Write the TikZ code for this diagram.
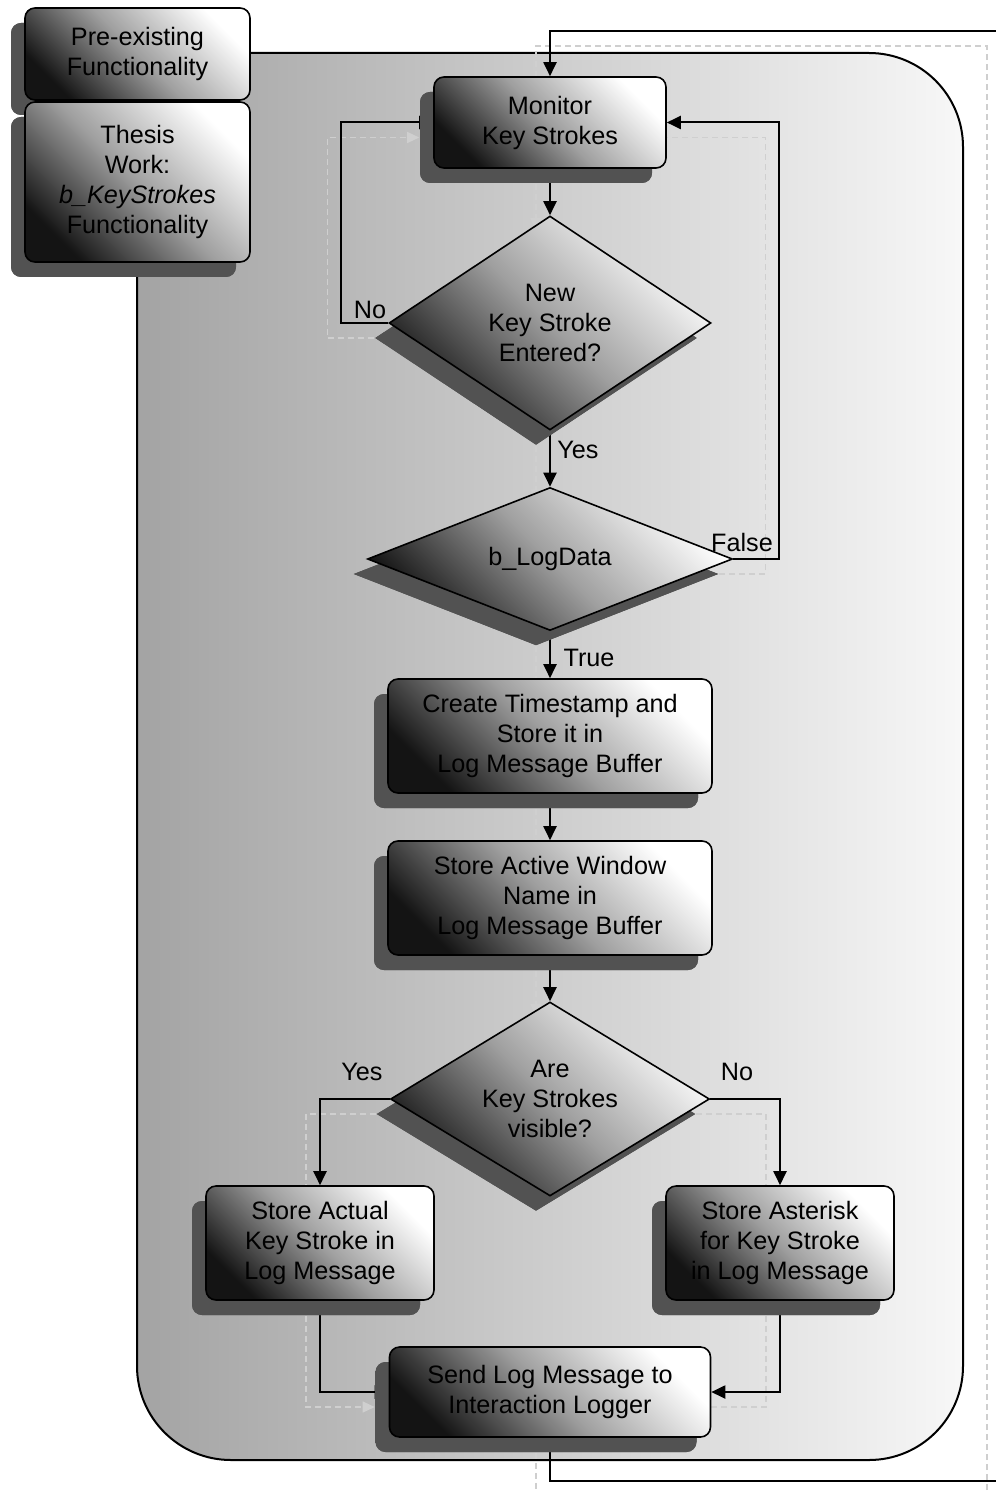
\documentclass[tikz,border=0pt]{standalone}
\usepackage{fontspec}
\setmainfont{Liberation Sans}
\usetikzlibrary{shapes.geometric,shadows,arrows.meta,backgrounds}
\begin{document}
\begin{tikzpicture}[x=0.5pt,y=-0.5pt,
  font=\fontsize{12.6}{15}\selectfont,
  grad/.style={top color=white, bottom color=black!92, middle color=gray!75, shading angle=-45},
  shadowdark/.style={drop shadow={shadow xshift=-7pt, shadow yshift=-7.5pt, opacity=1,
      fill=black!68, top color=black!68, bottom color=black!68, middle color=black!68}},
  procbox/.style={grad, shadowdark, draw=black, line width=0.8pt, rounded corners=5pt,
      align=center, inner sep=0pt},
  decision/.style={grad, shadowdark, diamond, aspect=1.5, draw=black, line width=0.8pt,
      align=center, inner sep=0pt},
  region/.style={draw=black, line width=1pt, rounded corners=47pt, left color=gray!72, right color=gray!6},
  conn/.style={draw=black, line width=1pt},
  arr/.style={-{Triangle[length=7pt,width=6.5pt]}},
  cshad/.style={draw=gray!38, line width=0.7pt, densely dashed},
  sarr/.style={-{Triangle[length=6pt,width=5.5pt]}},
  lbl/.style={inner sep=1pt}
]
\useasboundingbox (0,0) rectangle (995,1492);

% legend
\node[procbox, minimum width=112.5pt, minimum height=46pt] (legA) at (137.5,54)
  {Pre-existing\\Functionality};
\node[procbox, minimum width=112.5pt, minimum height=80pt] (legB) at (137.5,182)
  {Thesis\\Work:\\\textit{b\_KeyStrokes}\\Functionality};

% process steps
\node[procbox, minimum width=116pt, minimum height=45.5pt] (mon) at (550,122.5)
  {Monitor\\Key Strokes};
\node[decision, minimum width=161pt, minimum height=107pt] (d1) at (550,323)
  {New\\Key Stroke\\Entered?};
\node[decision, minimum width=182.5pt, minimum height=71.5pt] (d2) at (550,559)
  {b\_LogData};
\node[procbox, minimum width=162pt, minimum height=57pt] (cts) at (550,736)
  {Create Timestamp and\\Store it in\\Log Message Buffer};
\node[procbox, minimum width=162pt, minimum height=57pt] (saw) at (550,898)
  {Store Active Window\\Name in\\Log Message Buffer};
\node[decision, minimum width=159.5pt, minimum height=97pt] (d3) at (550,1099)
  {Are\\Key Strokes\\visible?};
\node[procbox, minimum width=114pt, minimum height=57pt] (act) at (320,1243)
  {Store Actual\\Key Stroke in\\Log Message};
\node[procbox, minimum width=114pt, minimum height=57pt] (ast) at (780,1243)
  {Store Asterisk\\for Key Stroke\\in Log Message};
\node[procbox, minimum width=160.5pt, minimum height=45pt] (snd) at (550,1392)
  {Send Log Message to\\Interaction Logger};

% branch labels
\node[lbl] (lNo1) at (370,310) {No};
\node[lbl] (lYes1) at (578,450) {Yes};
\node[lbl] (lFalse) at (742,542) {False};
\node[lbl] (lTrue) at (589,658) {True};
\node[lbl] (lYes2) at (362,1072) {Yes};
\node[lbl] (lNo2) at (737,1072) {No};

% main loop corners
\coordinate (lpB) at (1001,1481);
\coordinate (lpT) at (1001,31);

\begin{scope}[on background layer]
  % shaded frame around the thesis work
  \draw[region] (137,53) rectangle (963,1460);

  % faint connector shadows
  \begin{scope}[transform canvas={shift={(-7pt,-7.5pt)}}]
    \draw[cshad,sarr] (mon.south) -- (d1.north);
    \draw[cshad,sarr] (d1.west) -- ++(-47,0) |- (mon.west);
    \draw[cshad,sarr] (d1.south) -- (d2.north);
    \draw[cshad,sarr] (d2.east) -- ++(46,0) |- (mon.east);
    \draw[cshad,sarr] (d2.south) -- (cts.north);
    \draw[cshad,sarr] (cts.south) -- (saw.north);
    \draw[cshad,sarr] (saw.south) -- (d3.north);
    \draw[cshad,sarr] (d3.west) -| (act.north);
    \draw[cshad,sarr] (d3.east) -| (ast.north);
    \draw[cshad,sarr] (act.south) |- (snd.west);
    \draw[cshad,sarr] (ast.south) |- (snd.east);
    \draw[cshad,sarr] (snd.south) |- (lpB) -- (lpT) -| (mon.north);
  \end{scope}

  % connectors
  \draw[conn,arr] (mon.south) -- (d1.north);
  \draw[conn,arr] (d1.west) -- ++(-47,0) |- (mon.west);
  \draw[conn,arr] (d1.south) -- (d2.north);
  \draw[conn,arr] (d2.east) -- ++(46,0) |- (mon.east);
  \draw[conn,arr] (d2.south) -- (cts.north);
  \draw[conn,arr] (cts.south) -- (saw.north);
  \draw[conn,arr] (saw.south) -- (d3.north);
  \draw[conn,arr] (d3.west) -| (act.north);
  \draw[conn,arr] (d3.east) -| (ast.north);
  \draw[conn,arr] (act.south) |- (snd.west);
  \draw[conn,arr] (ast.south) |- (snd.east);
  \draw[conn,arr] (snd.south) |- (lpB) -- (lpT) -| (mon.north);
\end{scope}
\end{tikzpicture}
\end{document}
